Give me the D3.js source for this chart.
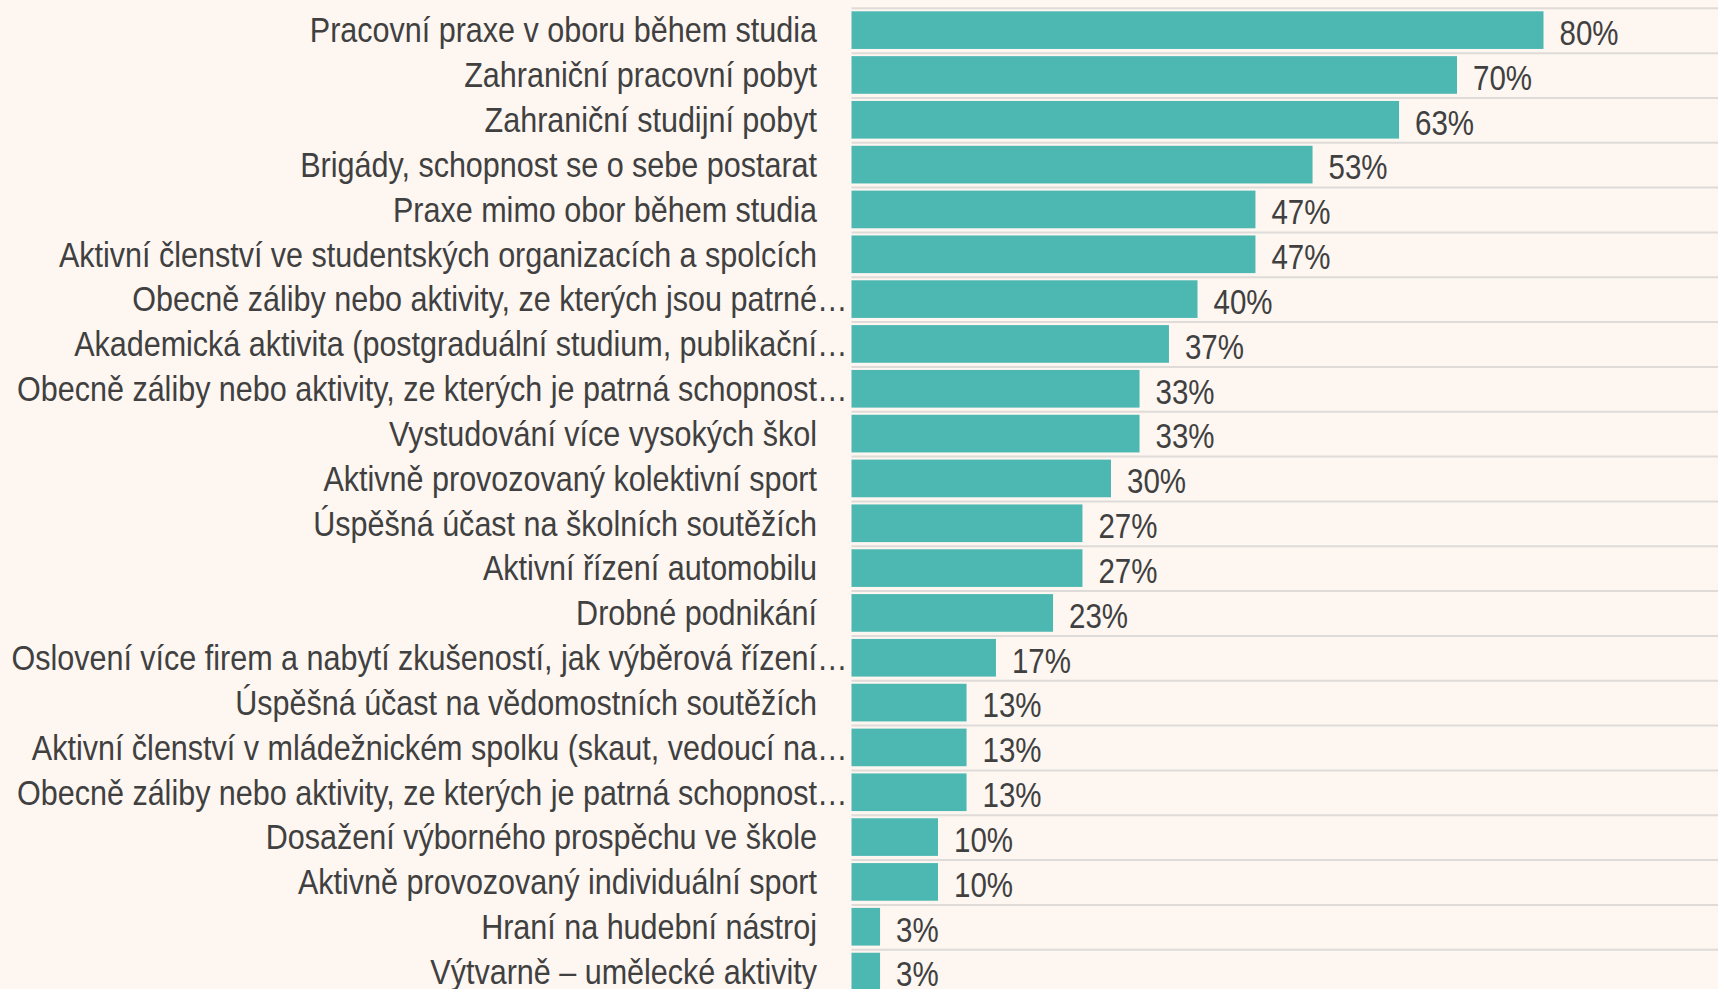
<!DOCTYPE html>
<html>
<head>
<meta charset="utf-8">
<script src="https://cdn.jsdelivr.net/npm/d3@7"></script>
<style>
  html, body { margin: 0; padding: 0; background: #fdf6f1; }
  svg { display: block; }
  text { font-family: "Liberation Sans", Arial, sans-serif; fill: #404040; }
</style>
</head>
<body>
<svg id="chart" width="1718" height="989"></svg>
<script>
const categories = [
  "Pracovní praxe v oboru během studia",
  "Zahraniční pracovní pobyt",
  "Zahraniční studijní pobyt",
  "Brigády, schopnost se o sebe postarat",
  "Praxe mimo obor během studia",
  "Aktivní členství ve studentských organizacích a spolcích",
  "Obecně záliby nebo aktivity, ze kterých jsou patrné…",
  "Akademická aktivita (postgraduální studium, publikační…",
  "Obecně záliby nebo aktivity, ze kterých je patrná schopnost…",
  "Vystudování více vysokých škol",
  "Aktivně provozovaný kolektivní sport",
  "Úspěšná účast na školních soutěžích",
  "Aktivní řízení automobilu",
  "Drobné podnikání",
  "Oslovení více firem a nabytí zkušeností, jak výběrová řízení…",
  "Úspěšná účast na vědomostních soutěžích",
  "Aktivní členství v mládežnickém spolku (skaut, vedoucí na…",
  "Obecně záliby nebo aktivity, ze kterých je patrná schopnost…",
  "Dosažení výborného prospěchu ve škole",
  "Aktivně provozovaný individuální sport",
  "Hraní na hudební nástroj",
  "Výtvarně – umělecké aktivity"
];
const values = [80, 70, 63.3, 53.3, 46.7, 46.7, 40, 36.7, 33.3, 33.3, 30, 26.7, 26.7, 23.3, 16.7, 13.3, 13.3, 13.3, 10, 10, 3.3, 3.3];
const xDomain = [0, 100];

const data = categories.map((c, i) => ({ id: i, label: c, value: values[i] }));

const svg = d3.select("#chart");
const W = 1718, H = 989;

const x = d3.scaleLinear().domain(xDomain).range([851.5, 1716.5]);
const y = d3.scaleBand().domain(data.map(d => d.id)).range([11.3, 990.4]).paddingInner(0.16).paddingOuter(0);

const fontSize = 36;
const narrowVal = 0.82;
const narrowLab = 0.848;
const baseOffLab = 12.3;
const baseOffVal = 14.8;

// grid separators
svg.append("g").selectAll("line").data(data).join("line")
  .attr("x1", x(0)).attr("x2", W)
  .attr("y1", d => y(d.id) - 3).attr("y2", d => y(d.id) - 3)
  .attr("stroke", "#dedbd8").attr("stroke-width", 2);

// bars
svg.append("g").selectAll("rect").data(data).join("rect")
  .attr("x", x(0))
  .attr("y", d => y(d.id))
  .attr("width", d => x(d.value) - x(0))
  .attr("height", y.bandwidth())
  .attr("fill", "#4db8b2");

// value labels
svg.append("g").selectAll("text").data(data).join("text")
  .attr("transform", d => `translate(${x(d.value) + 16},${y(d.id) + y.bandwidth() / 2 + baseOffVal}) scale(${narrowVal},1)`)
  .attr("font-size", fontSize)
  .text(d => Math.round(d.value) + "%");

// category labels
const lab = svg.append("g").selectAll("g").data(data).join("g")
  .attr("transform", d => `translate(817,${y(d.id) + y.bandwidth() / 2 + baseOffLab}) scale(${narrowLab},1)`);
lab.append("text")
  .attr("text-anchor", "end")
  .attr("font-size", fontSize)
  .text(d => d.label.endsWith("…") ? d.label.slice(0, -1) : d.label);
lab.filter(d => d.label.endsWith("…")).append("text")
  .attr("text-anchor", "start")
  .attr("font-size", fontSize)
  .text("…");
</script>
</body>
</html>
